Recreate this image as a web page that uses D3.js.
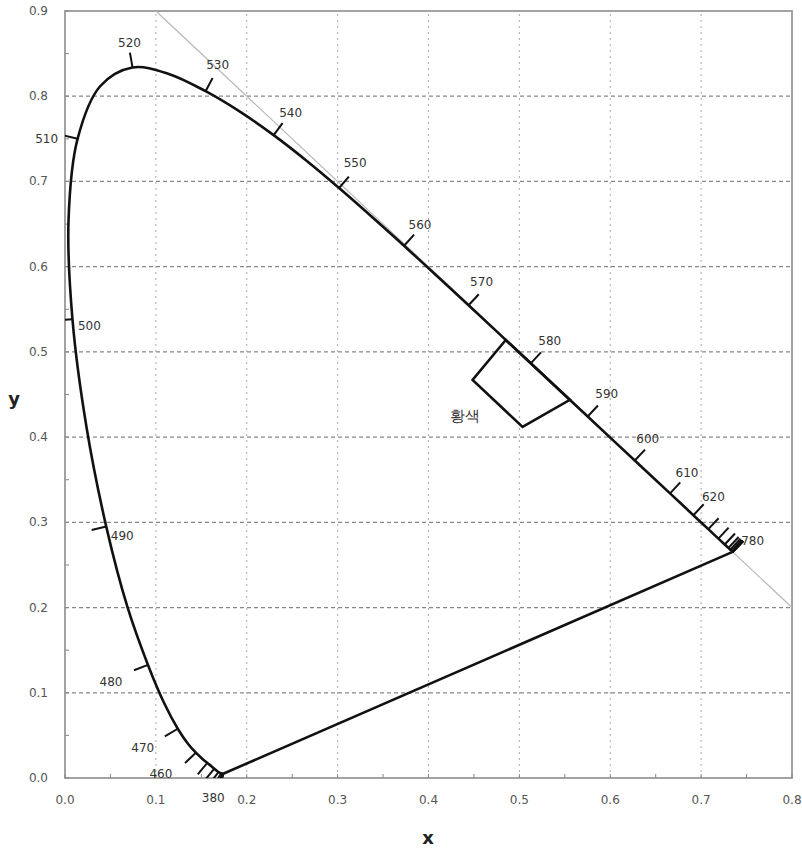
<!DOCTYPE html>
<html>
<head>
<meta charset="utf-8">
<title>CIE 1931 chromaticity - 황색</title>
<script src="https://d3js.org/d3.v7.min.js"></script>
<style>
  body { margin: 0; background: #fff; }
  text { font-family: "DejaVu Sans", sans-serif; }
</style>
</head>
<body>
<div id="chart"></div>
<script>
// spectral locus (CIE 1931 2 deg), 5 nm steps 380..780
const wavelengths = d3.range(380, 785, 5);
const locusX = [0.1741,0.1740,0.1738,0.1736,0.1733,0.1730,0.1726,0.1721,0.1714,0.1703,
  0.1689,0.1669,0.1644,0.1611,0.1566,0.1510,0.1440,0.1355,0.1241,0.1096,
  0.0913,0.0687,0.0454,0.0235,0.0082,0.0039,0.0139,0.0389,0.0743,0.1142,
  0.1547,0.1929,0.2296,0.2658,0.3016,0.3373,0.3731,0.4087,0.4441,0.4788,
  0.5125,0.5448,0.5752,0.6029,0.6270,0.6482,0.6658,0.6801,0.6915,0.7006,
  0.7079,0.7140,0.7190,0.7230,0.7260,0.7283,0.7300,0.7311,0.7320,0.7327,
  0.7334,0.7340,0.7344,0.7346,0.7347,0.7347,0.7347,0.7347,0.7347,0.7347,
  0.7347,0.7347,0.7347,0.7347,0.7347,0.7347,0.7347,0.7347,0.7347,0.7347,0.7347];
const locusY = [0.0050,0.0050,0.0049,0.0049,0.0048,0.0048,0.0048,0.0048,0.0051,0.0058,
  0.0069,0.0086,0.0109,0.0138,0.0177,0.0227,0.0297,0.0399,0.0578,0.0868,
  0.1327,0.2007,0.2950,0.4127,0.5384,0.6548,0.7502,0.8120,0.8338,0.8262,
  0.8059,0.7816,0.7543,0.7243,0.6923,0.6589,0.6245,0.5896,0.5547,0.5202,
  0.4866,0.4544,0.4242,0.3965,0.3725,0.3514,0.3340,0.3197,0.3083,0.2993,
  0.2920,0.2859,0.2809,0.2770,0.2740,0.2717,0.2700,0.2689,0.2680,0.2673,
  0.2666,0.2660,0.2656,0.2654,0.2653,0.2653,0.2653,0.2653,0.2653,0.2653,
  0.2653,0.2653,0.2653,0.2653,0.2653,0.2653,0.2653,0.2653,0.2653,0.2653,0.2653];

// labelled wavelengths
const labelled = [380,460,470,480,490,500,510,520,530,540,550,560,570,580,590,600,610,620,780];

// yellow region (x, y corners)
const yellowX = [0.485, 0.4485, 0.5035, 0.5556];
const yellowY = [0.514, 0.467, 0.412, 0.4437];
const yellowName = "황색";

const xTicks = [0,0.1,0.2,0.3,0.4,0.5,0.6,0.7,0.8];
const yTicks = [0,0.1,0.2,0.3,0.4,0.5,0.6,0.7,0.8,0.9];

// label placement relative to curve point (px)
const labelOffset = {
  380:[-10,24], 460:[-35,21], 470:[-35,19], 480:[-37,17], 490:[16,9], 500:[17,7],
  510:[-31,0], 520:[-3,-24], 530:[12,-26], 540:[17,-22], 550:[16,-25], 560:[16,-21],
  570:[13,-23], 580:[19,-22], 590:[19,-22], 600:[13,-22], 610:[17,-20], 620:[20,-18],
  780:[20,-11]
};

const W = 802, H = 850;
const x = d3.scaleLinear().domain([0, 0.8]).range([65, 792]);
const y = d3.scaleLinear().domain([0, 0.9]).range([778, 11]);

const svg = d3.select("#chart").append("svg").attr("width", W).attr("height", H);

svg.append("defs").append("clipPath").attr("id", "plot")
  .append("rect").attr("x", x(0)).attr("y", y(0.9))
  .attr("width", x(0.8) - x(0)).attr("height", y(0) - y(0.9));

// grid
const grid = svg.append("g");
grid.selectAll(".gx").data(xTicks.slice(1, -1)).join("line")
  .attr("x1", d => x(d)).attr("x2", d => x(d))
  .attr("y1", y(0)).attr("y2", y(0.9))
  .attr("stroke", "#aaa").attr("stroke-width", 1).attr("stroke-dasharray", "2,4");
grid.selectAll(".gy").data(yTicks.slice(1, -1)).join("line")
  .attr("x1", x(0)).attr("x2", x(0.8))
  .attr("y1", d => y(d)).attr("y2", d => y(d))
  .attr("stroke", "#888").attr("stroke-width", 1.2).attr("stroke-dasharray", "4,3");

// frame
svg.append("rect").attr("x", x(0)).attr("y", y(0.9))
  .attr("width", x(0.8) - x(0)).attr("height", y(0) - y(0.9))
  .attr("fill", "none").attr("stroke", "#999").attr("stroke-width", 1.8);

// small ticks inside frame
const minorX = d3.range(0, 0.801, 0.05), minorY = d3.range(0, 0.901, 0.05);
svg.append("g").selectAll("line").data(minorX).join("line")
  .attr("x1", d => x(d)).attr("x2", d => x(d)).attr("y1", y(0)).attr("y2", y(0) - 4)
  .attr("stroke", "#888");
svg.append("g").selectAll("line").data(minorY).join("line")
  .attr("x1", x(0)).attr("x2", x(0) + 4).attr("y1", d => y(d)).attr("y2", d => y(d))
  .attr("stroke", "#888");

// axis labels
const fmt = d3.format(".1f");
svg.append("g").selectAll("text").data(xTicks).join("text")
  .attr("x", d => x(d)).attr("y", 804).attr("text-anchor", "middle")
  .attr("font-size", 12).attr("fill", "#555").text(fmt);
svg.append("g").selectAll("text").data(yTicks).join("text")
  .attr("x", 48).attr("y", d => y(d) + 4).attr("text-anchor", "end")
  .attr("font-size", 12).attr("fill", "#555").text(fmt);
svg.append("text").attr("x", 428).attr("y", 844).attr("text-anchor", "middle")
  .attr("font-size", 18).attr("font-weight", "bold").attr("fill", "#222").text("x");
svg.append("text").attr("x", 14).attr("y", 405).attr("text-anchor", "middle")
  .attr("font-size", 18).attr("font-weight", "bold").attr("fill", "#222").text("y");

// x + y = 1 line
svg.append("line").attr("x1", x(0.1)).attr("y1", y(0.9)).attr("x2", x(0.8)).attr("y2", y(0.2))
  .attr("stroke", "#b8b8b8").attr("stroke-width", 1.2);

// locus
const pts = wavelengths.map((w, i) => ({ w, px: x(locusX[i]), py: y(locusY[i]) }));
// drop points that pile up on top of each other so the spline stays smooth
const pathPts = pts.filter((p, i) => i === 0 || i === pts.length - 1 ||
  Math.hypot(p.px - pts[i - 1].px, p.py - pts[i - 1].py) > 1.5);
const plot = svg.append("g").attr("clip-path", "url(#plot)");
plot.append("path")
  .attr("d", d3.line().x(d => d.px).y(d => d.py).curve(d3.curveCatmullRom.alpha(0.5))(pathPts))
  .attr("fill", "none").attr("stroke", "#111").attr("stroke-width", 2.6);
// purple line
plot.append("line")
  .attr("x1", pts[0].px).attr("y1", pts[0].py)
  .attr("x2", pts[pts.length - 1].px).attr("y2", pts[pts.length - 1].py)
  .attr("stroke", "#111").attr("stroke-width", 2.6);

// tick normals (widen the window until the neighbours are apart)
const cx = x(0.33), cy = y(0.33);
pts.forEach((p, i) => {
  let k = 1, tx = 0, ty = 0;
  while (k < pts.length) {
    const a = pts[Math.max(0, i - k)], b = pts[Math.min(pts.length - 1, i + k)];
    tx = b.px - a.px; ty = b.py - a.py;
    if (Math.hypot(tx, ty) > 3) break;
    k++;
  }
  const len = Math.hypot(tx, ty);
  tx /= len; ty /= len;
  let nx = ty, ny = -tx;
  if (nx * (p.px - cx) + ny * (p.py - cy) < 0) { nx = -nx; ny = -ny; }
  p.nx = nx; p.ny = ny;
});

const tickPts = pts.filter(p => p.w % 10 === 0);
plot.append("g").selectAll("line").data(tickPts).join("line")
  .attr("x1", d => d.px).attr("y1", d => d.py)
  .attr("x2", d => d.px + d.nx * 15).attr("y2", d => d.py + d.ny * 15)
  .attr("stroke", "#111").attr("stroke-width", 2);

svg.append("g").selectAll("text").data(pts.filter(p => labelled.includes(p.w))).join("text")
  .attr("x", d => d.px + labelOffset[d.w][0])
  .attr("y", d => d.py + labelOffset[d.w][1] + 4)
  .attr("text-anchor", "middle").attr("font-size", 12).attr("fill", "#333")
  .text(d => d.w);

// yellow region
svg.append("polygon")
  .attr("points", yellowX.map((v, i) => [x(v), y(yellowY[i])].join(",")).join(" "))
  .attr("fill", "none").attr("stroke", "#111").attr("stroke-width", 2.6)
  .attr("stroke-linejoin", "miter");
svg.append("text").attr("x", 465).attr("y", 421).attr("text-anchor", "middle")
  .attr("font-family", "'Noto Sans CJK KR', sans-serif")
  .attr("font-size", 15).attr("fill", "#333").text(yellowName);
</script>
</body>
</html>
